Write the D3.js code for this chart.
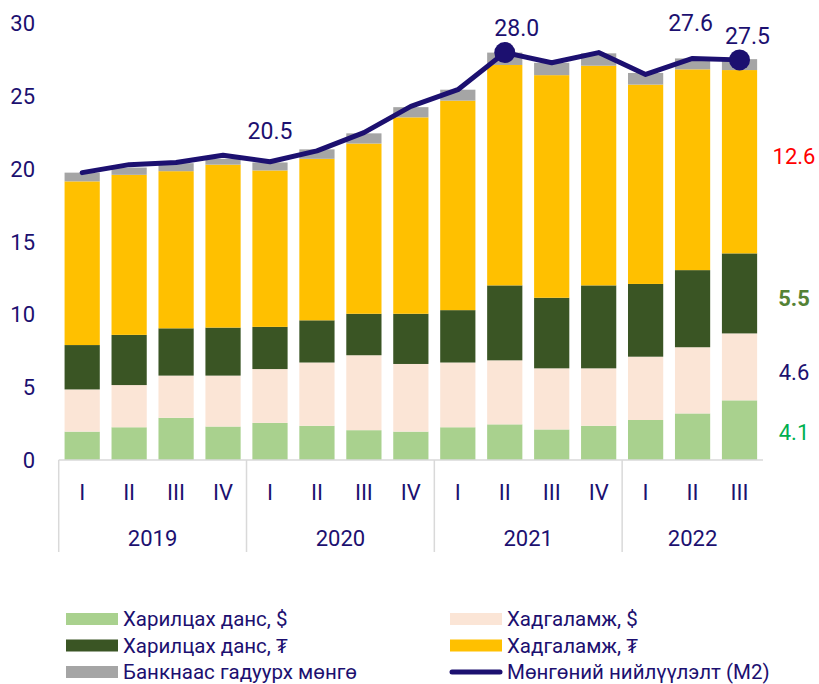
<html>
<script src="https://d3js.org/d3.v7.min.js"></script>
<style>
  body { margin: 0; background: #fff; }
  text { font-family: Roboto, "Noto Sans", sans-serif; }
</style>
<body>
<script>
    var width = 819
    var height = 684
    var navy = '#1c1070'

    // quarters and years
    var quarters = ['I','II','III','IV','I','II','III','IV','I','II','III','IV','I','II','III']
    var years = ['2019','2020','2021','2022']
    var yearSpan = [4, 4, 4, 3]

    // series (trillion MNT)
    var usdCurrent = [1.95, 2.25, 2.9, 2.3, 2.55, 2.35, 2.05, 1.95, 2.25, 2.45, 2.1, 2.35, 2.75, 3.2, 4.1]
    var usdSavings = [2.9, 2.9, 2.9, 3.5, 3.7, 4.35, 5.15, 4.65, 4.45, 4.4, 4.2, 3.95, 4.35, 4.55, 4.6]
    var mntCurrent = [3.05, 3.45, 3.25, 3.3, 2.9, 2.9, 2.85, 3.45, 3.6, 5.15, 4.85, 5.7, 5.0, 5.3, 5.5]
    var mntSavings = [11.25, 11.0, 10.8, 11.2, 10.75, 11.1, 11.7, 13.5, 14.4, 15.15, 15.3, 15.1, 13.7, 13.8, 12.6]
    var cash = [0.6, 0.5, 0.55, 0.4, 0.55, 0.65, 0.7, 0.7, 0.75, 0.85, 0.85, 0.85, 0.8, 0.75, 0.75]
    var m2 = [19.75, 20.3, 20.45, 20.95, 20.5, 21.25, 22.5, 24.3, 25.45, 28.0, 27.3, 28.0, 26.5, 27.6, 27.5]

    var seriesKeys = ['usdCurrent', 'usdSavings', 'mntCurrent', 'mntSavings', 'cash']
    var seriesNames = ['Харилцах данс, $', 'Хадгаламж, $', 'Харилцах данс, ₮', 'Хадгаламж, ₮', 'Банкнаас гадуурх мөнгө']
    var seriesColors = ['#a9d18e', '#fbe5d6', '#3a5524', '#ffc000', '#a5a5a5']
    var lineName = 'Мөнгөний нийлүүлэлт (М2)'

    var markIdx = [9, 14]
    var labelIdx = [4, 9, 13, 14]
    var rightLabels = [{v: '4.1', color: '#00b050', bold: false},
                       {v: '4.6', color: navy, bold: false},
                       {v: '5.5', color: '#548235', bold: true},
                       {v: '12.6', color: '#ff0000', bold: false}]

    var rows = quarters.map(function(q, i) {
        return {i: i, usdCurrent: usdCurrent[i], usdSavings: usdSavings[i], mntCurrent: mntCurrent[i],
                mntSavings: mntSavings[i], cash: cash[i]}
    })

    var svg = d3.select('body').append('svg').attr('width', width).attr('height', height)

    var x = d3.scaleBand().domain(d3.range(quarters.length)).range([58.7, 763]).paddingInner(0.25).paddingOuter(0.125)
    var y = d3.scaleLinear().domain([0, 30]).range([460, 23.5])

    // y labels
    svg.append('g').selectAll('text').data(y.ticks(6)).enter().append('text')
        .attr('x', 35).attr('y', function(d){return y(d)}).attr('dy', '0.36em')
        .attr('text-anchor', 'end').attr('font-size', 22).attr('fill', navy)
        .text(function(d){return d})

    // stacked bars
    var stack = d3.stack().keys(seriesKeys)
    var layers = stack(rows)
    var g_bars = svg.append('g')
    g_bars.selectAll('g').data(layers).enter().append('g')
        .attr('fill', function(d, i){return seriesColors[i]})
        .selectAll('rect').data(function(d){return d}).enter().append('rect')
        .attr('x', function(d){return x(d.data.i)})
        .attr('width', x.bandwidth())
        .attr('y', function(d){return y(d[1])})
        .attr('height', function(d){return y(d[0]) - y(d[1])})

    // category axis
    var step = x.step()
    var x0 = x.range()[0]
    var g_axis = svg.append('g')
    g_axis.append('line').attr('x1', x0).attr('x2', x.range()[1]).attr('y1', y(0)).attr('y2', y(0))
        .attr('stroke', '#d9d9d9').attr('stroke-width', 1.5)
    var starts = [0]
    yearSpan.forEach(function(s, i){ starts.push(starts[i] + s) })
    g_axis.selectAll('line.div').data(starts.slice(0, years.length)).enter().append('line')
        .attr('class', 'div')
        .attr('x1', function(d){return x0 + d * step}).attr('x2', function(d){return x0 + d * step})
        .attr('y1', y(0)).attr('y2', 552)
        .attr('stroke', '#d9d9d9').attr('stroke-width', 1.5)
    g_axis.selectAll('text.q').data(quarters).enter().append('text')
        .attr('class', 'q')
        .attr('x', function(d, i){return x(i) + x.bandwidth()/2}).attr('y', 492).attr('dy', '0.36em')
        .attr('text-anchor', 'middle').attr('font-size', 22).attr('fill', navy)
        .text(function(d){return d})
    g_axis.selectAll('text.yr').data(years).enter().append('text')
        .attr('class', 'yr')
        .attr('x', function(d, i){return x0 + (starts[i] + yearSpan[i]/2) * step}).attr('y', 538).attr('dy', '0.36em')
        .attr('text-anchor', 'middle').attr('font-size', 22).attr('fill', navy)
        .text(function(d){return d})

    // M2 line
    var cx = function(i){return x(i) + x.bandwidth()/2}
    var line = d3.line().x(function(d, i){return cx(i)}).y(function(d){return y(d)})
    svg.append('path').datum(m2).attr('d', line).attr('fill', 'none')
        .attr('stroke', navy).attr('stroke-width', 5).attr('stroke-linejoin', 'round').attr('stroke-linecap', 'round')
    svg.selectAll('circle.mk').data(markIdx).enter().append('circle')
        .attr('class', 'mk').attr('cx', function(d){return cx(d)}).attr('cy', function(d){return y(m2[d])})
        .attr('r', 10.5).attr('fill', navy)

    var lblDx = {4: 0, 9: 12, 13: -2, 14: 8}
    var lblDy = {4: -31, 9: -25, 13: -36, 14: -24}
    svg.selectAll('text.lbl').data(labelIdx).enter().append('text')
        .attr('class', 'lbl')
        .attr('x', function(d){return cx(d) + lblDx[d]}).attr('y', function(d){return y(m2[d]) + lblDy[d]})
        .attr('dy', '0.36em').attr('text-anchor', 'middle').attr('font-size', 23).attr('fill', navy)
        .text(function(d){return d3.format('.1f')(m2[d])})

    // labels for the last quarter
    var last = layers.map(function(l){return l[quarters.length - 1]})
    var rlDy = [2, 5, 5, -6]
    svg.selectAll('text.rl').data(rightLabels).enter().append('text')
        .attr('class', 'rl')
        .attr('x', 794).attr('y', function(d, i){return y((last[i][0] + last[i][1]) / 2) + rlDy[i]})
        .attr('dy', '0.36em').attr('text-anchor', 'middle').attr('font-size', 22)
        .attr('font-weight', function(d){return d.bold ? 'bold' : 'normal'})
        .attr('fill', function(d){return d.color})
        .text(function(d){return d.v})

    // legend
    var legendOrder = [0, 1, 2, 3, 4, 5]
    var g_legend = svg.append('g')
    var items = g_legend.selectAll('g').data(legendOrder).enter().append('g')
        .attr('transform', function(d){
            var col = d % 2, row = Math.floor(d / 2)
            return 'translate(' + (col ? 450 : 66) + ',' + (619 + row * 26.5) + ')'
        })
    items.each(function(d){
        var g = d3.select(this)
        if (d < 5) {
            g.append('rect').attr('x', 0).attr('y', -6).attr('width', 52).attr('height', 12).attr('fill', seriesColors[d])
        } else {
            g.append('line').attr('x1', 2).attr('x2', 50).attr('y1', 0).attr('y2', 0)
                .attr('stroke', navy).attr('stroke-width', 5).attr('stroke-linecap', 'round')
        }
        g.append('text').attr('x', 57).attr('y', 0).attr('dy', '0.36em').attr('font-size', 20.5).attr('fill', navy)
            .text(d < 5 ? seriesNames[d] : lineName)
    })
</script>
</body>
</html>
